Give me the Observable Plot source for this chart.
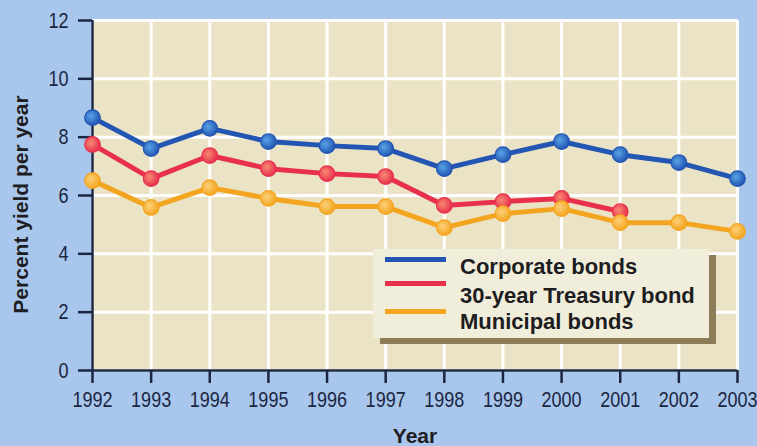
<!DOCTYPE html>
<html>
<head>
<meta charset="utf-8">
<script src="https://cdn.jsdelivr.net/npm/d3@7"></script>
<script src="https://cdn.jsdelivr.net/npm/@observablehq/plot@0.6"></script>
<style>
  html, body { margin: 0; padding: 0; background: #a9c7ec; }
  #wrap { position: relative; width: 757px; height: 446px; background: #a9c7ec; overflow: hidden; }
  #legend { position: absolute; left: 373px; top: 249px; width: 336px; height: 89px;
            background: #f1eddb; box-shadow: 7px 6px 0 #8d7c58; }
  .sw { position: absolute; left: 12px; width: 61px; height: 5px; }
  .lab { position: absolute; left: 87px; font-family: "Liberation Sans", Arial, sans-serif;
         font-weight: bold; font-size: 22px; color: #1d1d22; white-space: nowrap; line-height: 1; }
</style>
</head>
<body>
<div id="wrap"></div>
<script>
const years = [1992, 1993, 1994, 1995, 1996, 1997, 1998, 1999, 2000, 2001, 2002, 2003];
const corporate = [8.67, 7.61, 8.30, 7.85, 7.71, 7.61, 6.92, 7.40, 7.85, 7.40, 7.13, 6.58];
const treasury  = [7.75, 6.58, 7.37, 6.92, 6.75, 6.65, 5.66, 5.79, 5.90, 5.45];
const municipal = [6.51, 5.59, 6.27, 5.90, 5.62, 5.62, 4.90, 5.38, 5.55, 5.07, 5.07, 4.77];
const seriesNames = ["Corporate bonds", "30-year Treasury bond", "Municipal bonds"];
const seriesColors = ["#2356b3", "#e8304d", "#f4a520"];
const dotCenters = ["#58a3e6", "#f78a72", "#fcd07a"];
const yTicks = [0, 2, 4, 6, 8, 10, 12];
const xLabel = "Year";
const yLabel = "Percent yield per year";

const seriesValues = [corporate, treasury, municipal];
const data = [];
seriesValues.forEach((vals, i) => {
  vals.forEach((v, j) => data.push({year: years[j], value: v, series: seriesNames[i]}));
});

const ink = "#1b2642";
const sans = "'Liberation Sans', Arial, sans-serif";

const defs = () => {
  const d = d3.create("svg:defs");
  seriesNames.forEach((name, i) => {
    const g = d.append("radialGradient").attr("id", "g" + i).attr("cx", "40%").attr("cy", "40%").attr("r", "60%");
    g.append("stop").attr("offset", "0%").attr("stop-color", dotCenters[i]);
    g.append("stop").attr("offset", "100%").attr("stop-color", seriesColors[i]);
  });
  return d.node();
};

const chart = Plot.plot({
  width: 757,
  height: 446,
  marginLeft: 92,
  marginRight: 20,
  marginTop: 20,
  marginBottom: 76,
  x: {domain: [1992, 2003]},
  y: {domain: [0, 12]},
  color: {domain: seriesNames, range: seriesColors},
  style: {background: "transparent", fontFamily: sans, color: ink, overflow: "visible"},
  marks: [
    defs,
    Plot.frame({fill: "#ebe3c6", stroke: null}),
    Plot.gridX(years, {stroke: "white", strokeWidth: 3, strokeOpacity: 1}),
    Plot.gridY(yTicks, {stroke: "white", strokeWidth: 3, strokeOpacity: 1}),
    Plot.axisX(years, {tickSize: 13, tickPadding: 8, tickFormat: d => String(d), fontSize: 22,
                       label: null, color: ink, strokeWidth: 2.5, fontFamily: sans}),
    Plot.axisY(yTicks, {tickSize: 14, tickPadding: 10, fontSize: 22, label: null,
                        color: ink, strokeWidth: 2.5, fontFamily: sans}),
    Plot.ruleX([1992], {y1: 0, y2: 12, stroke: ink, strokeWidth: 2.5}),
    Plot.ruleY([0], {x1: 1992, x2: 2003, stroke: ink, strokeWidth: 2.5}),
    Plot.line(data, {x: "year", y: "value", z: "series", stroke: "series", strokeWidth: 5,
                     strokeLinejoin: "round", strokeLinecap: "round"}),
    ...seriesNames.map((name, i) =>
      Plot.dot(data.filter(d => d.series === name),
               {x: "year", y: "value", r: 7.8, fill: `url(#g${i})`, stroke: seriesColors[i], strokeWidth: 1.2})),
    Plot.text([yLabel], {frameAnchor: "left", rotate: -90, dx: -71, dy: 9, fontSize: 21,
                         fontWeight: "bold", fontFamily: sans, fill: "#1d1d22",
                         textAnchor: "middle", lineAnchor: "middle"}),
    Plot.text([xLabel], {frameAnchor: "bottom", dy: 66, fontSize: 21, fontWeight: "bold",
                         fontFamily: sans, fill: "#1d1d22", lineAnchor: "middle"})
  ]
});

// condense the tick labels horizontally (the reference uses a condensed face)
const squeeze = 0.82;
d3.select(chart)
  .selectAll('g[aria-label="x-axis tick label"] text, g[aria-label="y-axis tick label"] text')
  .each(function () {
    this.style.fontSize = "22px";
    this.style.fontFamily = sans;
    const x = +(this.getAttribute("x") || 0);
    const t = this.getAttribute("transform") || "";
    this.setAttribute("transform", `${t} translate(${x},0) scale(${squeeze},1) translate(${-x},0)`);
  });

const wrap = document.getElementById("wrap");
wrap.appendChild(chart);

const legend = document.createElement("div");
legend.id = "legend";
const swTops = [8, 32, 60];
const labTops = [7, 36, 62];
seriesNames.forEach((name, i) => {
  const sw = document.createElement("div");
  sw.className = "sw";
  sw.style.top = swTops[i] + "px";
  sw.style.background = seriesColors[i];
  legend.appendChild(sw);
  const lab = document.createElement("div");
  lab.className = "lab";
  lab.style.top = labTops[i] + "px";
  lab.textContent = name;
  legend.appendChild(lab);
});
wrap.appendChild(legend);
</script>
</body>
</html>
